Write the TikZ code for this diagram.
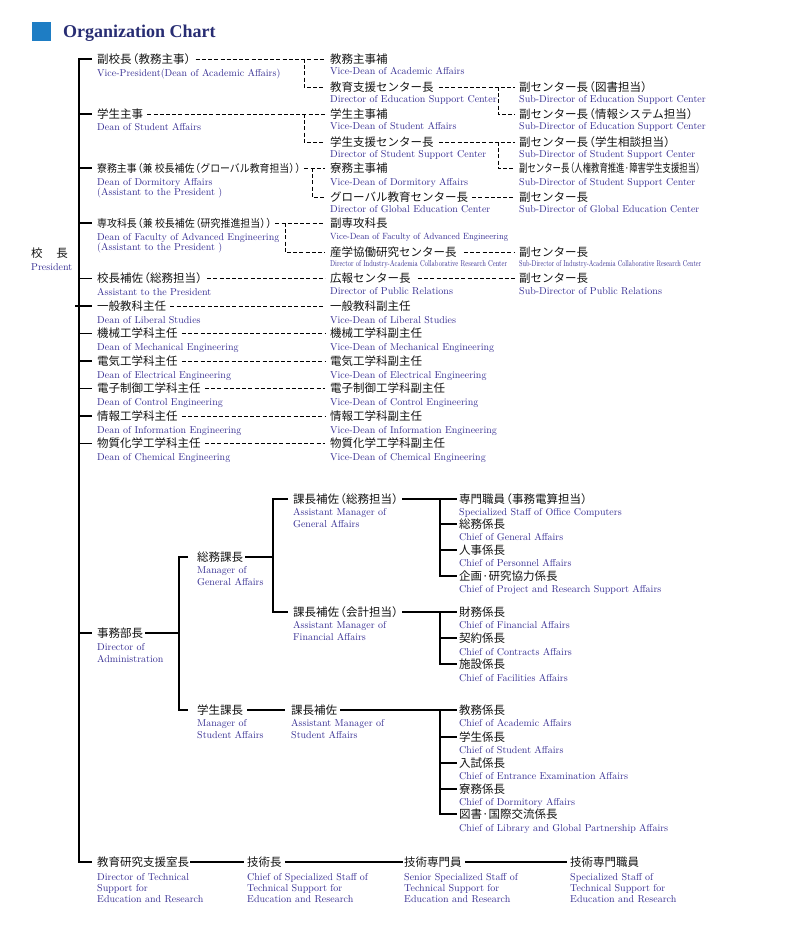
\documentclass[tikz,border=0pt]{standalone}
\usepackage{fontspec}
\usepackage{graphicx}
\newfontfamily\jpfont{Noto Sans CJK JP}
\newfontfamily\titlefont{Liberation Serif}
\definecolor{enblue}{RGB}{52,44,145}
\definecolor{titleblue}{RGB}{40,45,115}
\definecolor{sqblue}{RGB}{30,125,196}
\definecolor{jpblack}{RGB}{20,20,20}
\newcommand\LP{\makebox[0.6em][r]{（}}
\newcommand\RP{\makebox[0.6em][l]{）}}
\begin{document}
\begin{tikzpicture}[x=1pt,y=-1pt,
  jp/.style={font=\jpfont\fontsize{11.5}{13}\selectfont, text=jpblack, inner sep=0pt, anchor=west, text height=8.5pt, text depth=0pt},
  jps/.style={jp, font=\jpfont\fontsize{10.8}{13}\selectfont},
  en/.style={font=\fontsize{10}{11.5}\selectfont, text=enblue, inner sep=0pt, anchor=north west, align=left},
  enc/.style={en, font=\fontsize{10}{9.5}\selectfont},
  enb/.style={en, font=\fontsize{10}{11}\selectfont},
  tree/.style={draw=black, line width=1.1pt},
  dl/.style={draw=black, line width=0.8pt, dash pattern=on 4pt off 2.2pt}]
\useasboundingbox (0,0) rectangle (802,934);
% title
\fill[sqblue] (32,22) rectangle (51,41);
\node[anchor=base west, inner sep=0pt, font=\titlefont\bfseries\fontsize{18}{20}\selectfont, text=titleblue] (title) at (63,38) {Organization Chart};
% president
\node[jp] (pres) at (31,253) {校\hspace{1.2em}長};
\node[en] (prese) at (31,263.5) {President};
% coordinates for vertical lines
\coordinate (T) at (79,0);
\coordinate (T0) at (75,0);
\coordinate (T2) at (179,0);
\coordinate (T3) at (273,0);
\coordinate (T4) at (440,0);
\coordinate (V1) at (304,0);
\coordinate (V2) at (312,0);
\coordinate (V3) at (285,0);
\coordinate (V4) at (498,0);
% column 1
\node[jp] (a1) at (97,59) {副校長\LP 教務主事\RP};
\node[en] (a1e) at (97,68.5) {Vice-President(Dean of Academic Affairs)};
\node[jp] (a2) at (97,114) {学生主事};
\node[en] (a2e) at (97,123.5) {Dean of Student Affairs};
\node[jps] (a3) at (97,168) {\resizebox{204pt}{\height}{寮務主事\LP 兼 校長補佐\LP グローバル教育担当\RP\RP}};
\node[enc] (a3e) at (97,178) {Dean of Dormitory Affairs\\(Assistant to the President )};
\node[jps] (a4) at (97,223) {\resizebox{175pt}{\height}{専攻科長\LP 兼 校長補佐\LP 研究推進担当\RP\RP}};
\node[enc] (a4e) at (97,233) {Dean of Faculty of Advanced Engineering\\(Assistant to the President )};
\node[jp] (a5) at (97,278.5) {校長補佐\LP 総務担当\RP};
\node[en] (a5e) at (97,288.5) {Assistant to the President};
\node[jp] (a6) at (97,306) {一般教科主任};
\node[en] (a6e) at (97,316.5) {Dean of Liberal Studies};
\node[jp] (a7) at (97,333.5) {機械工学科主任};
\node[en] (a7e) at (97,343.5) {Dean of Mechanical Engineering};
\node[jp] (a8) at (97,361) {電気工学科主任};
\node[en] (a8e) at (97,371.5) {Dean of Electrical Engineering};
\node[jp] (a9) at (97,388.5) {電子制御工学科主任};
\node[en] (a9e) at (97,398.5) {Dean of Control Engineering};
\node[jp] (a10) at (97,416) {情報工学科主任};
\node[en] (a10e) at (97,426.5) {Dean of Information Engineering};
\node[jp] (a11) at (97,443.5) {物質化学工学科主任};
\node[en] (a11e) at (97,453.5) {Dean of Chemical Engineering};
% column 2
\node[jp] (b1) at (330,59) {教務主事補};
\node[en] (b1e) at (330,67.5) {Vice-Dean of Academic Affairs};
\node[jp] (b2) at (330,87) {教育支援センター長};
\node[en] (b2e) at (330,95.5) {Director of Education Support Center};
\node[jp] (b3) at (330,114) {学生主事補};
\node[en] (b3e) at (330,122.5) {Vice-Dean of Student Affairs};
\node[jp] (b4) at (330,142) {学生支援センター長};
\node[en] (b4e) at (330,150.5) {Director of Student Support Center};
\node[jp] (b5) at (330,168) {寮務主事補};
\node[en] (b5e) at (330,178) {Vice-Dean of Dormitory Affairs};
\node[jp] (b6) at (330,197) {グローバル教育センター長};
\node[en] (b6e) at (330,205.5) {Director of Global Education Center};
\node[jp] (b7) at (330,223) {副専攻科長};
\node[en] (b7e) at (330,232.5) {\resizebox{178pt}{\height}{\fontsize{9}{10}\selectfont Vice-Dean of Faculty of Advanced Engineering}};
\node[jp] (b8) at (330,252) {産学協働研究センター長};
\node[en] (b8e) at (330,260.5) {\resizebox{177pt}{\height}{\fontsize{8.5}{10}\selectfont Director of Industry-Academia Collaborative Research Center}};
\node[jp] (b9) at (330,278.5) {広報センター長};
\node[en] (b9e) at (330,287.5) {Director of Public Relations};
\node[jp] (b10) at (330,306) {一般教科副主任};
\node[en] (b10e) at (330,316.5) {Vice-Dean of Liberal Studies};
\node[jp] (b11) at (330,333.5) {機械工学科副主任};
\node[en] (b11e) at (330,343.5) {Vice-Dean of Mechanical Engineering};
\node[jp] (b12) at (330,361) {電気工学科副主任};
\node[en] (b12e) at (330,371.5) {Vice-Dean of Electrical Engineering};
\node[jp] (b13) at (330,388.5) {電子制御工学科副主任};
\node[en] (b13e) at (330,398.5) {Vice-Dean of Control Engineering};
\node[jp] (b14) at (330,416) {情報工学科副主任};
\node[en] (b14e) at (330,426.5) {Vice-Dean of Information Engineering};
\node[jp] (b15) at (330,443.5) {物質化学工学科副主任};
\node[en] (b15e) at (330,453.5) {Vice-Dean of Chemical Engineering};
% column 3
\node[jp] (c1) at (519,87) {副センター長\LP 図書担当\RP};
\node[en] (c1e) at (519,95.5) {Sub-Director of Education Support Center};
\node[jp] (c2) at (519,114) {副センター長\LP 情報システム担当\RP};
\node[en] (c2e) at (519,122.5) {Sub-Director of Education Support Center};
\node[jp] (c3) at (519,142) {副センター長\LP 学生相談担当\RP};
\node[en] (c3e) at (519,150.5) {Sub-Director of Student Support Center};
\node[jp] (c4) at (519,168) {\resizebox{182pt}{\height}{副センター長\LP 人権教育推進·障害学生支援担当\RP}};
\node[en] (c4e) at (519,178) {Sub-Director of Student Support Center};
\node[jp] (c5) at (519,197) {副センター長};
\node[en] (c5e) at (519,205.5) {Sub-Director of Global Education Center};
\node[jp] (c6) at (519,252) {副センター長};
\node[en] (c6e) at (519,260.5) {\resizebox{182pt}{\height}{\fontsize{8.5}{10}\selectfont Sub-Director of Industry-Academia Collaborative Research Center}};
\node[jp] (c7) at (519,278.5) {副センター長};
\node[en] (c7e) at (519,287.5) {Sub-Director of Public Relations};
% administration
\node[jp] (d0) at (97,633) {事務部長};
\node[en] (d0e) at (97,643.5) {Director of\\Administration};
\node[jp] (d1) at (197,557) {総務課長};
\node[en] (d1e) at (197,566.5) {Manager of\\General Affairs};
\node[jp] (d2) at (197,710) {学生課長};
\node[en] (d2e) at (197,719.5) {Manager of\\Student Affairs};
\node[jp] (e1) at (293,499) {課長補佐\LP 総務担当\RP};
\node[en] (e1e) at (293,508.5) {Assistant Manager of\\General Affairs};
\node[jp] (e2) at (293,612) {課長補佐\LP 会計担当\RP};
\node[en] (e2e) at (293,621.5) {Assistant Manager of\\Financial Affairs};
\node[jp] (e3) at (291,710) {課長補佐};
\node[en] (e3e) at (291,719.5) {Assistant Manager of\\Student Affairs};
\node[jp] (f1) at (459,499) {専門職員\LP 事務電算担当\RP};
\node[en] (f1e) at (459,508.5) {Specialized Staff of Office Computers};
\node[jp] (f2) at (459,524) {総務係長};
\node[en] (f2e) at (459,533.5) {Chief of General Affairs};
\node[jp] (f3) at (459,550) {人事係長};
\node[en] (f3e) at (459,559.5) {Chief of Personnel Affairs};
\node[jp] (f4) at (459,576) {企画·研究協力係長};
\node[en] (f4e) at (459,585.5) {Chief of Project and Research Support Affairs};
\node[jp] (g1) at (459,612) {財務係長};
\node[en] (g1e) at (459,621.5) {Chief of Financial Affairs};
\node[jp] (g2) at (459,638) {契約係長};
\node[en] (g2e) at (459,648.5) {Chief of Contracts Affairs};
\node[jp] (g3) at (459,664) {施設係長};
\node[en] (g3e) at (459,674.5) {Chief of Facilities Affairs};
\node[jp] (h1) at (459,710) {教務係長};
\node[en] (h1e) at (459,719.5) {Chief of Academic Affairs};
\node[jp] (h2) at (459,737) {学生係長};
\node[en] (h2e) at (459,746.5) {Chief of Student Affairs};
\node[jp] (h3) at (459,763) {入試係長};
\node[en] (h3e) at (459,772.5) {Chief of Entrance Examination Affairs};
\node[jp] (h4) at (459,789) {寮務係長};
\node[en] (h4e) at (459,798.5) {Chief of Dormitory Affairs};
\node[jp] (h5) at (459,814) {図書·国際交流係長};
\node[en] (h5e) at (459,824.5) {Chief of Library and Global Partnership Affairs};
% technical support
\node[jp] (k1) at (97,862) {教育研究支援室長};
\node[enb] (k1e) at (97,873.5) {Director of Technical\\Support for\\Education and Research};
\node[jp] (k2) at (247,862) {技術長};
\node[enb] (k2e) at (247,873.5) {Chief of Specialized Staff of\\Technical Support for\\Education and Research};
\node[jp] (k3) at (404,862) {技術専門員};
\node[enb] (k3e) at (404,873.5) {Senior Specialized Staff of\\Technical Support for\\Education and Research};
\node[jp] (k4) at (570,862) {技術専門職員};
\node[enb] (k4e) at (570,873.5) {Specialized Staff of\\Technical Support for\\Education and Research};
% main trunk
\draw[tree, shorten <=5pt, shorten >=5pt] (a1.west) -| (T |- k1.west) -- (k1.west);
\foreach \n in {a2,a3,a4,a5,a7,a8,a9,a10,a11,d0}
  \draw[tree, shorten >=5pt] (T |- \n.west) -- (\n.west);
\draw[tree, shorten >=5pt] (T0 |- a6.west) -- (a6.west);
% administration tree
\draw[tree, shorten <=2pt] (d0.east) -- (T2 |- d0.east);
\draw[tree, shorten <=9pt, shorten >=9pt] (d1.west) -| (T2 |- d2.west) -- (d2.west);
\draw[tree, shorten <=2pt] (d1.east) -- (T3 |- d1.east);
\draw[tree, shorten <=5pt, shorten >=5pt] (e1.west) -| (T3 |- e2.west) -- (e2.west);
\draw[tree, shorten <=4pt, shorten >=6pt] (d2.east) -- (e3.west);
\draw[tree, shorten <=3pt, shorten >=2pt] (e1.east) -- (f1.west);
\draw[tree, shorten >=2pt] (T4 |- f1.west) |- (f4.west);
\foreach \n in {f2,f3}
  \draw[tree, shorten >=2pt] (T4 |- \n.west) -- (\n.west);
\draw[tree, shorten <=3pt, shorten >=2pt] (e2.east) -- (g1.west);
\draw[tree, shorten >=2pt] (T4 |- g1.west) |- (g3.west);
\draw[tree, shorten >=2pt] (T4 |- g2.west) -- (g2.west);
\draw[tree, shorten <=3pt, shorten >=2pt] (e3.east) -- (h1.west);
\draw[tree, shorten >=2pt] (T4 |- h1.west) |- (h5.west);
\foreach \n in {h2,h3,h4}
  \draw[tree, shorten >=2pt] (T4 |- \n.west) -- (\n.west);
% technical row
\draw[tree, shorten <=1pt, shorten >=3pt] (k1.east) -- (k2.west);
\draw[tree, shorten <=3pt, shorten >=1pt] (k2.east) -- (k3.west);
\draw[tree, shorten <=3pt, shorten >=3pt] (k3.east) -- (k4.west);
% dashed connectors column 1 -> column 2
\draw[dl, shorten <=4pt, shorten >=5pt] (a1.east) -- (b1.west);
\draw[dl, shorten >=5pt] (a1.east -| V1) |- (b2.west);
\draw[dl, shorten <=4pt, shorten >=5pt] (a2.east) -- (b3.west);
\draw[dl, shorten >=5pt] (a2.east -| V1) |- (b4.west);
\draw[dl, shorten <=3pt, shorten >=5pt] (a3.east) -- (b5.west);
\draw[dl, shorten >=5pt] (a3.east -| V2) |- (b6.west);
\draw[dl, shorten <=3pt, shorten >=5pt] (a4.east) -- (b7.west);
\draw[dl, shorten >=5pt] (a4.east -| V3) |- (b8.west);
\foreach \s/\t in {a5/b9,a6/b10,a7/b11,a8/b12,a9/b13,a10/b14,a11/b15}
  \draw[dl, shorten <=4pt, shorten >=5pt] (\s.east) -- (\t.west);
% dashed connectors column 2 -> column 3
\draw[dl, shorten <=5pt, shorten >=4pt] (b2.east) -- (c1.west);
\draw[dl, shorten >=4pt] (b2.east -| V4) |- (c2.west);
\draw[dl, shorten <=5pt, shorten >=4pt] (b4.east) -- (c3.west);
\draw[dl, shorten >=4pt] (b4.east -| V4) |- (c4.west);
\draw[dl, shorten <=4pt, shorten >=4pt] (b6.east) -- (c5.west);
\draw[dl, shorten <=7pt, shorten >=4pt] (b8.east) -- (c6.west);
\draw[dl, shorten <=7pt, shorten >=4pt] (b9.east) -- (c7.west);
\end{tikzpicture}
\end{document}
